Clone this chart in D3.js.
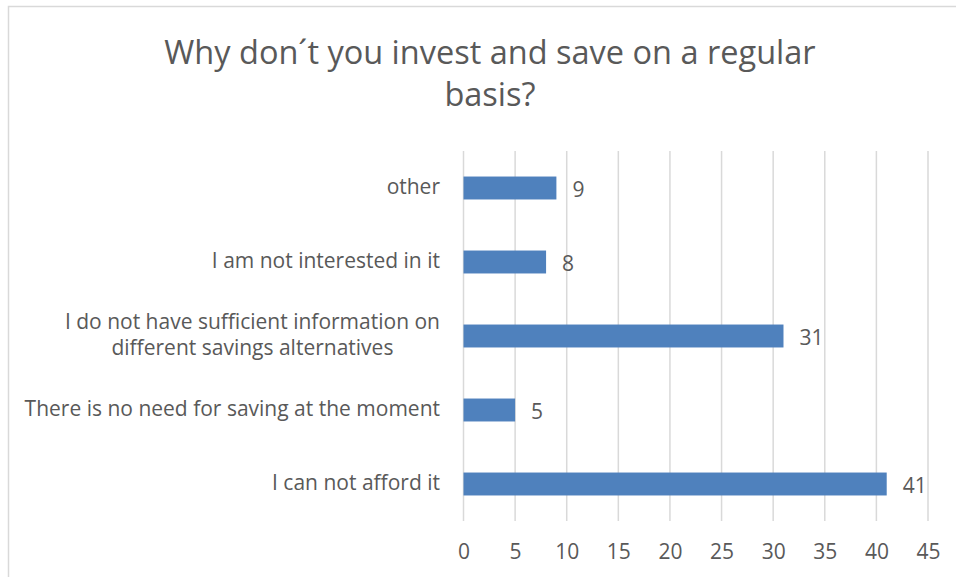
<!DOCTYPE html>
<html>
<head>
<meta charset="utf-8">
<script src="https://cdn.jsdelivr.net/npm/d3@7"></script>
<style>
  html, body { margin: 0; padding: 0; background: #fff; }
  svg { display: block; }
  text { font-family: "Open Sans", "Noto Sans", sans-serif; fill: #595959; }
</style>
</head>
<body>
<svg id="chart" width="956" height="577"></svg>
<script>
// Survey answers, listed top to bottom as drawn
const categories = [
  "other",
  "I am not interested in it",
  "I do not have sufficient information on\ndifferent savings alternatives",
  "There is no need for saving at the moment",
  "I can not afford it"
];
const counts = [9, 8, 31, 5, 41];
const xTicks = [0, 5, 10, 15, 20, 25, 30, 35, 40, 45];
const titleLines = ["Why don\u00b4t you invest and save on a regular", "basis?"];

const svg = d3.select("#chart");
const W = 956, H = 577;
const plot = { left: 463.5, right: 928, top: 151, bottom: 521 };

// chart frame (top and left edges visible)
svg.append("rect")
  .attr("x", 8.5).attr("y", 6.5)
  .attr("width", W + 20).attr("height", H + 20)
  .attr("fill", "#fff")
  .attr("stroke", "#d9d9d9").attr("stroke-width", 1.5);

// title
svg.append("text")
  .attr("text-anchor", "middle")
  .style("font-size", "32.5px")
  .selectAll("tspan").data(titleLines).join("tspan")
  .attr("x", 490)
  .attr("y", (d, i) => 64 + i * 42)
  .text(d => d);

const x = d3.scaleLinear().domain([0, 45]).range([plot.left, plot.right]);
const y = d3.scaleBand().domain(categories).range([plot.top, plot.bottom]).paddingInner(0.69).paddingOuter(0.345);

// vertical gridlines
svg.append("g")
  .selectAll("line").data(xTicks).join("line")
  .attr("x1", d => x(d)).attr("x2", d => x(d))
  .attr("y1", plot.top).attr("y2", plot.bottom)
  .attr("stroke", "#d9d9d9").attr("stroke-width", 1.5);

// x axis labels
const xAxis = d3.axisBottom(x).tickValues(xTicks).tickSize(0).tickPadding(0);
const gx = svg.append("g").attr("transform", `translate(0,${plot.bottom})`).call(xAxis);
gx.select(".domain").remove();
gx.selectAll("text")
  .attr("y", 38).attr("dy", 0)
  .style("font-size", "21px")
  .style("font-family", "'Open Sans', sans-serif")
  .attr("fill", "#595959");

// bars
svg.append("g")
  .selectAll("rect").data(categories).join("rect")
  .attr("x", x(0))
  .attr("y", d => y(d))
  .attr("width", (d, i) => x(counts[i]) - x(0))
  .attr("height", y.bandwidth())
  .attr("fill", "#4f81bd");

// value labels
svg.append("g")
  .selectAll("text").data(categories).join("text")
  .attr("x", (d, i) => x(counts[i]) + 16)
  .attr("y", d => y(d) + y.bandwidth() / 2)
  .attr("dy", "0.42em")
  .style("font-size", "21px")
  .text((d, i) => counts[i]);

// category labels (right aligned, multi-line blocks centred on each other)
const catG = svg.append("g");
categories.forEach(c => {
  const lines = c.split("\n");
  const cy = y(c) + y.bandwidth() / 2;
  const t = catG.append("text").style("font-size", "21px");
  const tspans = t.selectAll("tspan").data(lines).join("tspan")
    .attr("y", (d, i) => cy + 6 + (i - (lines.length - 1) / 2) * 26)
    .text(d => d);
  const widths = tspans.nodes().map(n => n.getComputedTextLength());
  const maxW = d3.max(widths);
  tspans.attr("x", (d, i) => 440 - maxW / 2 - widths[i] / 2);
});
</script>
</body>
</html>
